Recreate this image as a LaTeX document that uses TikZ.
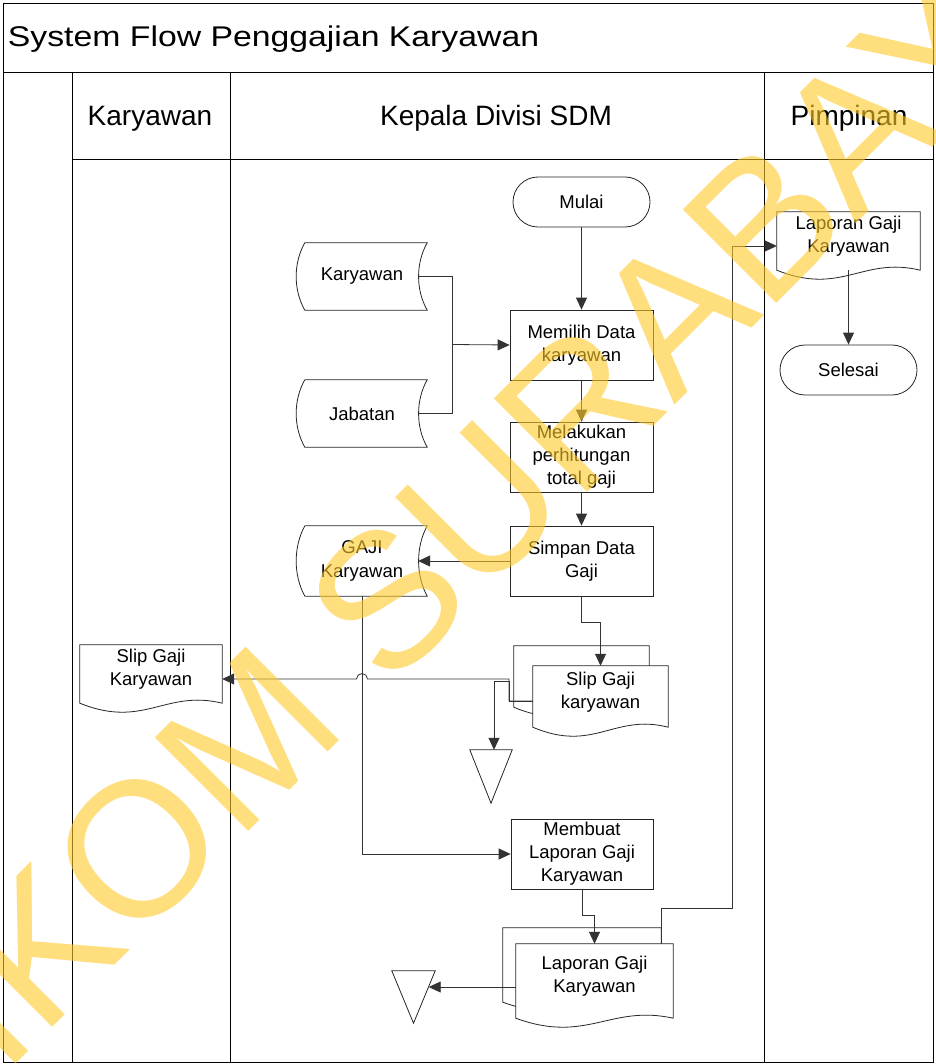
\documentclass[tikz,border=0pt]{standalone}
\usepackage{fontspec}
\setmainfont{Liberation Sans}
\usetikzlibrary{arrows.meta,calc}
\definecolor{wmcol}{RGB}{255,200,40}
\newcommand\nodefont{\fontsize{18.5}{23.2}\selectfont}
\tikzset{
  frameline/.style={draw=black, line width=1pt},
  shp/.style={draw=black!85, line width=0.8pt, fill=white},
  conn/.style={draw=black!80, line width=0.8pt},
  arr/.style={conn, -{Triangle[length=12pt,width=11pt]}},
  term/.style={shp, rounded corners=25pt, minimum width=137pt, minimum height=50pt, inner sep=0pt, font=\nodefont},
  proc/.style={shp, minimum width=143pt, minimum height=70pt, inner sep=0pt, align=center, font=\nodefont},
  ghost/.style={draw=none, inner sep=0pt},
  txt/.style={align=center, font=\nodefont, inner sep=0pt},
  headtext/.style={anchor=base, inner sep=0pt, font=\fontsize{28}{28}\selectfont},
}
\newcommand\drawdoc[1]{\draw[shp] (#1.north west) -- (#1.north east) -- (#1.south east)
  .. controls ($(#1.south west)!0.6!(#1.south east)+(0,-14)$) and ($(#1.south west)!0.45!(#1.south east)+(0,26)$) .. (#1.south west) -- cycle;}
\newcommand\drawstored[1]{\draw[shp] ($(#1.north west)+(8,0)$) -- (#1.north east)
  .. controls ($(#1.north east)!0.3!(#1.south east)+(-11.5,0)$) and ($(#1.north east)!0.7!(#1.south east)+(-11.5,0)$) .. (#1.south east)
  -- ($(#1.south west)+(8,0)$)
  .. controls ($(#1.north west)!0.7!(#1.south west)+(-3.5,0)$) and ($(#1.north west)!0.3!(#1.south west)+(-3.5,0)$) .. ($(#1.north west)+(8,0)$) -- cycle;}
\newcommand\drawtri[1]{\draw[shp] (#1.north west) -- (#1.north east) -- (#1.south) -- cycle;}
\begin{document}
\begin{tikzpicture}[x=1pt,y=-1pt]
\useasboundingbox (0,0) rectangle (935,1064);
\fill[white] (0,0) rectangle (935,1064);
% frame
\draw[frameline] (3,4) rectangle (933,1062);
\draw[frameline] (3,73) -- (933,73);
\draw[frameline] (72,73) -- (72,1062);
\draw[frameline] (230,73) -- (230,1062);
\draw[frameline] (764,73) -- (764,1062);
\draw[frameline] (72,160) -- (933,160);
\node[anchor=base west, inner sep=0pt, xscale=1.185, font=\fontsize{28.5}{28.5}\selectfont] (title) at (7.7,47) {System Flow Penggajian Karyawan};
\node[headtext] (h1) at (150,126) {Karyawan};
\node[headtext] (h2) at (496,126) {Kepala Divisi SDM};
\node[headtext] (h3) at (849,126) {Pimpinan};

% process column
\node[term] (mulai) at (581.5,202) {Mulai};
\node[proc] (memilih) at (581.5,345) {Memilih Data\\karyawan};
\node[proc] (melakukan) at (581.5,457) {Melakukan\\perhitungan\\total gaji};
\node[proc] (simpan) at (581.5,561) {Simpan Data\\Gaji};
\node[proc, minimum width=142pt] (membuat) at (582,854) {Membuat\\Laporan Gaji\\Karyawan};

% stored data
\node[ghost, minimum width=130pt, minimum height=67pt] (kar) at (362,276.5) {};
\drawstored{kar}
\node[txt] (kart) at (kar.center) {Karyawan};
\node[ghost, minimum width=130pt, minimum height=67pt] (jab) at (362,413.5) {};
\drawstored{jab}
\node[txt] (jabt) at (jab.center) {Jabatan};
\node[ghost, minimum width=130pt, minimum height=70pt] (gaji) at (362,561) {};
\drawstored{gaji}
\node[txt] (gajit) at (gaji.center) {GAJI\\Karyawan};

% documents
\node[ghost, minimum width=135pt, minimum height=61pt] (slipA) at (581.5,676.5) {};
\drawdoc{slipA}
\node[ghost, minimum width=135pt, minimum height=61pt] (slipB) at (600.5,696.5) {};
\drawdoc{slipB}
\node[txt] (slipBt) at ([yshift=4.5]slipB.center) {Slip Gaji\\karyawan};

\node[ghost, minimum width=142pt, minimum height=58pt] (slipK) at (151,674) {};
\drawdoc{slipK}
\node[txt] (slipKt) at ([yshift=4.5]slipK.center) {Slip Gaji\\Karyawan};

\node[ghost, minimum width=158pt, minimum height=74pt] (lapA) at (582,965) {};
\drawdoc{lapA}
\node[ghost, minimum width=157pt, minimum height=74pt] (lapB) at (594.5,981) {};
\drawdoc{lapB}
\node[txt] (lapBt) at ([yshift=4.5]lapB.center) {Laporan Gaji\\Karyawan};

\node[ghost, minimum width=143pt, minimum height=58pt] (lapP) at (848.5,241) {};
\drawdoc{lapP}
\node[txt] (lapPt) at ([yshift=4.5]lapP.center) {Laporan Gaji\\Karyawan};

\node[term] (selesai) at (848.5,370) {Selesai};

% off-page / archive triangles
\node[ghost, minimum width=42pt, minimum height=53pt] (tri1) at (491,776.5) {};
\drawtri{tri1}
\node[ghost, minimum width=43pt, minimum height=52pt] (tri2) at (413.5,997) {};
\drawtri{tri2}

% connectors
\draw[arr] (mulai.south) -- (memilih.north);
\coordinate (jn) at (452,344.5);
\draw[conn] ([xshift=-9]kar.east) -| (jn);
\draw[conn] ([xshift=-9]jab.east) -| (jn);
\draw[arr] (jn) -- (memilih.west);
\draw[arr] (memilih.south) -- (melakukan.north);
\draw[arr] (melakukan.south) -- (simpan.north);
\draw[arr] (simpan.west) -- ([xshift=-9]gaji.east);
\draw[arr] (simpan.south) -- ++(0,26) -| (slipB.north);

\coordinate (s1) at (509,701);
\coordinate (s2) at (509,679);
\coordinate (s3) at (509,681);
\coordinate (s4) at (494,681);
\coordinate (hopR) at (367.5,679);
\draw[arr] ([yshift=-4.5]slipB.west) -- (s1) -- (s2) -- (hopR)
  arc[start angle=0, end angle=180, radius=5.5pt] -- ([yshift=-5]slipK.east);
\draw[arr] ([yshift=-4.5]slipB.west) -- (s1) -- (s3) -- (s4) -- (s4 |- tri1.north);

\draw[arr] (gaji.south) |- (membuat.west);
\draw[arr] (membuat.south) -- ++(0,26) -| (lapB.north);

\coordinate (r1) at (732,908);
\draw[arr] ([xshift=-12]lapB.north east) |- (r1) |- ([yshift=-5]lapP.west);

\coordinate (t2e) at ($(tri2.north east)!0.3!(tri2.south)$);
\coordinate (lb) at ([yshift=-6]lapB.west);
\draw[arr] (lb) -- (lb -| t2e);

\draw[arr] (lapP.south) -- (selesai.north);

% watermark
\begin{scope}
\clip (0,0) rectangle (935,1064);
\node[rotate=45, anchor=base west, inner sep=0pt, font=\fontsize{192}{192}\selectfont, text=wmcol, text opacity=0.6] (wm) at (-170,1250) {STIKOM SURABAYA};
\end{scope}
\end{tikzpicture}
\end{document}
